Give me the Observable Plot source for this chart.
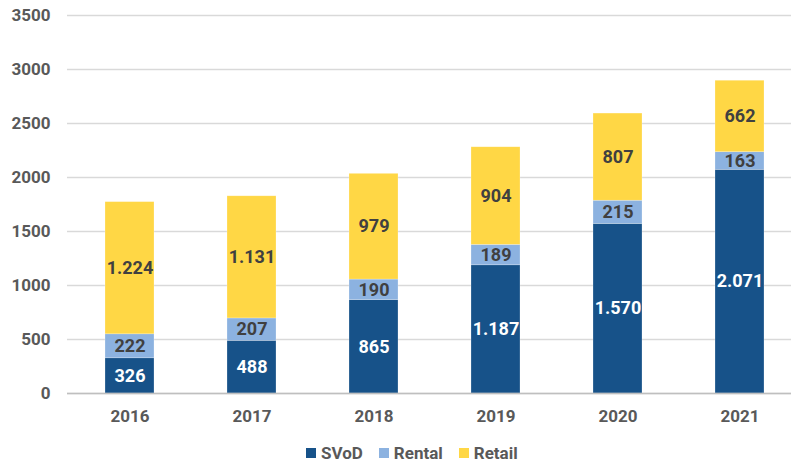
<!DOCTYPE html>
<html>
<head>
<meta charset="utf-8">
<script src="https://cdn.jsdelivr.net/npm/d3@7"></script>
<script src="https://cdn.jsdelivr.net/npm/@observablehq/plot@0.6"></script>
<style>
  body { margin: 0; background: #fff; font-family: Roboto, "Noto Sans", sans-serif; }
  #legend { display: flex; align-items: center; height: 26px; padding-left: 306px; font-weight: bold; font-size: 17px; color: #595959; }
  #legend .item { display: flex; align-items: center; margin-right: 16px; }
  #legend .sw { width: 10px; height: 10px; margin-right: 5px; }
</style>
</head>
<body>
<div id="chart"></div>
<div id="legend"></div>
<script>
const years = ["2016", "2017", "2018", "2019", "2020", "2021"];
const seriesNames = ["SVoD", "Rental", "Retail"];
const svod = [326, 488, 865, 1187, 1570, 2071];
const rental = [222, 207, 190, 189, 215, 163];
const retail = [1224, 1131, 979, 904, 807, 662];
const yTicks = [0, 500, 1000, 1500, 2000, 2500, 3000, 3500];
const colors = ["#175289", "#8CB2E0", "#FFD745"];
const labelColors = ["#ffffff", "#404040", "#404040"];

const seriesValues = [svod, rental, retail];
const data = [];
seriesNames.forEach((s, si) => {
  years.forEach((yr, i) => data.push({year: yr, series: s, value: seriesValues[si][i]}));
});

const loc = d3.formatLocale({decimal: ",", thousands: ".", grouping: [3], currency: ["", "€"]});
const fmt = loc.format(",");

const chart = Plot.plot({
  width: 791,
  height: 440,
  marginLeft: 67,
  marginRight: 0,
  marginTop: 15,
  marginBottom: 47,
  style: {fontFamily: "Roboto, sans-serif", fontWeight: "bold", fontSize: "17px", color: "#595959", background: "#fff"},
  x: {domain: years, range: [67, 802], paddingInner: 0.6, paddingOuter: 0.3, label: null},
  y: {domain: [0, 3500], label: null},
  color: {domain: seriesNames, range: colors},
  marks: [
    Plot.gridY(yTicks, {stroke: "#d9d9d9", strokeOpacity: 1, strokeWidth: 1.5}),
    Plot.axisY(yTicks, {tickSize: 0, tickPadding: 17, tickFormat: "d", fontSize: 17, fill: "#595959", label: null}),
    Plot.axisX({tickSize: 0, tickPadding: 16, fontSize: 17, fill: "#595959", label: null}),
    Plot.barY(data, Plot.stackY({x: "year", y: "value", z: "series", fill: "series", stroke: "#ffffff", strokeOpacity: 0.4, strokeWidth: 0.6, order: seriesNames})),
    Plot.ruleY([0], {stroke: "#bfbfbf", strokeWidth: 1.5}),
    Plot.text(data, Plot.stackY({x: "year", y: "value", z: "series", order: seriesNames, text: d => fmt(d.value), fill: d => labelColors[seriesNames.indexOf(d.series)], fontSize: 18, fontWeight: "bold"}))
  ]
});
document.getElementById("chart").appendChild(chart);

const legend = document.getElementById("legend");
seriesNames.forEach((s, i) => {
  const it = document.createElement("div");
  it.className = "item";
  const sw = document.createElement("div");
  sw.className = "sw";
  sw.style.background = colors[i];
  const t = document.createElement("span");
  t.textContent = s;
  it.appendChild(sw);
  it.appendChild(t);
  legend.appendChild(it);
});
</script>
</body>
</html>
